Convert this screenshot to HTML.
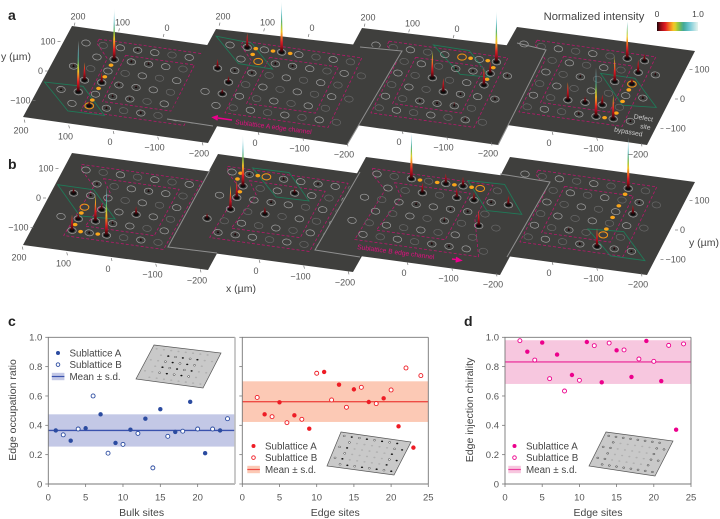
<!DOCTYPE html>
<html lang="en">
<head>
<meta charset="utf-8">
<title>Edge channel measurements</title>
<style>
html,body{margin:0;padding:0;background:#fff;width:720px;height:519px;overflow:hidden}
svg{display:block;font-family:"Liberation Sans",sans-serif}
</style>
</head>
<body>
<svg id="figure" xmlns="http://www.w3.org/2000/svg" width="720" height="519" viewBox="0 0 720 519">
<rect width="720" height="519" fill="#fff"/>
<defs id="defs"></defs>
<g id="plates-a"></g>
<g id="plates-b"></g>
<g id="plate-labels" font-size="9" fill="#555"></g>
<g font-weight="bold" font-size="14" fill="#222">
<text x="8" y="20">a</text>
<text x="8" y="169">b</text>
<text x="8" y="326">c</text>
<text x="464" y="326">d</text>
</g>
<g>
<text x="16" y="60" font-size="10.5" fill="#444" text-anchor="middle">y (µm)</text>
<text x="704" y="246" font-size="10.5" fill="#444" text-anchor="middle">y (µm)</text>
<text x="241" y="292" font-size="10.5" fill="#444" text-anchor="middle">x (µm)</text>
<text x="594" y="20" font-size="11.2" fill="#444" text-anchor="middle">Normalized intensity</text>
<text x="657" y="17" font-size="8.5" fill="#444" text-anchor="middle">0</text>
<text x="698" y="17" font-size="8.5" fill="#444" text-anchor="middle">1.0</text>
<text transform="translate(235 124) rotate(7.6)" font-size="6.7" fill="#e0107f">Sublattice A edge channel</text>
<text transform="translate(357 249) rotate(7.6)" font-size="6.7" fill="#e0107f">Sublattice B edge channel</text>
<path d="M232 120 L218 118 M218 115.6 L213 117.4 L217.6 120" stroke="#ec008c" stroke-width="1.4" fill="#ec008c"/>
<path d="M452 259 L456 259.6 M456 257.4 L461 260.4 L455.6 262" stroke="#ec008c" stroke-width="1.4" fill="#ec008c"/>
<g font-size="6.7" fill="#ccc" text-anchor="middle">
<text transform="translate(643 120) rotate(10)">Defect</text>
<text transform="translate(645 129) rotate(10)">site</text>
<text transform="translate(628 134) rotate(10)">bypassed</text>
</g>
</g>
<g id="charts"></g>
</svg>
<script>
/* ---------- panels a and b: measured intensity per lattice site [column,row,intensity] ---------- */
const peaksA1=[[1,4,1],[2,1,1],[1,3,.35],[2,3,.2],[2,5,.1],[3,5,.05],[3,0,.05],[3,1,.05],[4,1,.05],[3,3,.06],[4,3,.05],[3,4,.05],[4,4,.05],[5,5,.05],[0,2,.05],[0,4,.03]];
const peaksA2=[[1,0,.28],[3,0,1],[0,2,.18],[1,3,.12],[1,4,.1],[2,2,.05],[3,1,.05],[4,1,.04],[1,2,.04]];
const peaksA3=[[7,0,1],[4,2,.53],[5,3,.27],[7,2,.35],[7,1,.24],[6,4,.08],[5,1,.05],[6,1,.04],[5,4,.05],[4,4,.05],[7,5,.06],[8,3,.05],[8,1,.05],[6,3,.04]];
const peaksA4=[[6,0,.72],[7,0,.14],[7,1,.25],[6,2,.5],[7,2,.12],[6,5,.96],[7,5,.47],[6,4,.2],[5,4,.12],[4,4,.35],[5,5,.06],[8,1,.06],[8,3,.06],[4,2,.05],[8,5,.04]];
const peaksB1=[[3,5,.96],[2,4,.53],[1,5,.31],[1,4,.12],[4,3,.16],[0,2,.1],[2,3,.12],[3,4,.06],[1,1,.05],[4,1,.05],[2,5,.05],[5,5,.05],[1,2,.05]];
const peaksB2=[[1,1,1],[1,3,.47],[1,2,.33],[0,4,.1],[3,3,.14],[4,1,.1],[3,0,.06],[1,5,.05],[2,5,.05],[3,2,.06],[1,0,.05],[5,0,.04]];
const peaksB3=[[2,0,.9],[3,1,.2],[4,0,.2],[5,0,.18],[5,1,.2],[6,1,.16],[8,1,.18],[7,3,.3],[5,3,.08],[3,2,.05],[5,2,.04],[5,5,.05],[6,5,.05],[7,1,.05],[6,2,.05]];
const peaksB4=[[6,0,1],[6,5,.36],[7,2,.18],[7,1,.05],[4,4,.06],[5,5,.05],[7,5,.05],[8,5,.03]];

const stepsA1=[[2,4.5],[2,3.5],[2,2.5],[2,1.5]];
const stepsA2=[[1.5,0],[2.5,0],[3.5,0],[1.5,.5]];
const stepsA3=[[5.5,0],[6.5,0],[7,.5],[7,1.5]];
const stepsA4=[[7,2.5],[7,3.5],[7,4.5],[6.5,5]];
const stepsB1=[[1,3.5],[1,4.5],[1.5,5],[2.5,5]];
const stepsB2=[[1.5,0],[.5,0],[.5,.5],[1,1.5]];
const stepsB3=[[2.5,0],[3.5,0],[4.5,0],[5.5,0]];
const stepsB4=[[6,.5],[6,1.5],[6,2.5],[6,3.5]];

/* ---------- panel c and d values ---------- */
const bulkSitesA=[1,3,5,7,9,11,13,15,17,19,21,23];
const edgeSitesA=[3,5,7,9,11,13,15,17,19,21,23];
const sitesB=[2,4,6,8,10,12,14,16,18,20,22,24];
const bulkA=[.365,.295,.38,.475,.28,.37,.445,.51,.355,.56,.21,.365];
const bulkB=[.335,.375,.6,.21,.27,.345,.11,.325,.36,.375,.375,.445];
const bulkMean=.365, bulkLow=.255, bulkHigh=.475;
const edgeA=[.475,.557,.468,.377,.764,.677,.645,.559,.584,.393,.248];
const edgeB=[.59,.459,.418,.441,.755,.573,.523,.659,.548,.641,.791,.739];
const edgeMean=.561, edgeLow=.423, edgeHigh=.70;
const chiralityA=[.902,.964,.882,.743,.968,.693,.911,.73,.975,.702,.37];
const chiralityB=[.977,.845,.718,.634,.707,.943,.961,.914,.852,.836,.945,.955];
const chiralityMean=.832, chiralityLow=.682, chiralityHigh=.98;
const yTicks=[0,.2,.4,.6,.8,1];
const xTicks=[0,5,10,15,20,25];
const plateXTicks=[200,100,0,-100,-200];
const plateYTicks=[100,0,-100];
const colorStops=[[0,'#1a0508'],[.08,'#8b0a14'],[.2,'#e01b24'],[.32,'#f58220'],[.42,'#f5d327'],[.52,'#8dc63f'],[.64,'#3fa796'],[.78,'#6cc5d3'],[1,'#e8f3ee']];

const NS='http://www.w3.org/2000/svg';
function mk(tag,attrs,parent,text){
  const el=document.createElementNS(NS,tag);
  for(const k in attrs)el.setAttribute(k,attrs[k]);
  if(text!==undefined)el.textContent=text;
  if(parent)parent.appendChild(el);
  return el;
}
function hex(c){return [1,3,5].map(i=>parseInt(c.substr(i,2),16));}
function colorAt(t){
  for(let i=1;i<colorStops.length;i++){
    if(t<=colorStops[i][0]){
      const a=colorStops[i-1],b=colorStops[i],f=(t-a[0])/(b[0]-a[0]);
      const ca=hex(a[1]),cb=hex(b[1]);
      return 'rgb('+ca.map((v,j)=>Math.round(v+(cb[j]-v)*f)).join(',')+')';
    }
  }
  return colorStops[colorStops.length-1][1];
}
const defs=document.getElementById('defs');
let gradId=0;
function peakGradient(I){
  const id='peak-grad-'+(gradId++);
  const g=mk('linearGradient',{id:id,x1:0,y1:0,x2:0,y2:1},defs);
  for(let k=10;k>=0;k--){
    const t=I*k/10;
    mk('stop',{offset:1-k/10,'stop-color':colorAt(t)},g);
  }
  return id;
}

/* colour bar */
(function(){
  const g=mk('linearGradient',{id:'cbar-grad',x1:0,y1:0,x2:1,y2:0},defs);
  for(let k=0;k<=20;k++){mk('stop',{offset:k/20,'stop-color':colorAt(k/20)},g);}
  const bar=mk('rect',{x:657,y:22,width:41,height:9,fill:'url(#cbar-grad)'},document.getElementById('figure'));
  
  
})();

/* lattice projection */
const colStep=[17.2,2.41], rowStep=[-6.24,11.6];
function sitePx(o,c,r){return [o[0]+c*colStep[0]+r*rowStep[0],o[1]+c*colStep[1]+r*rowStep[1]];}
function pathFrom(o,pts){
  return pts.map((p,i)=>{const q=sitePx(o,p[0],p[1]);return (i?'L':'M')+q[0].toFixed(1)+' '+q[1].toFixed(1);}).join(' ')+' Z';
}
const outerTop=[[.6,-.45],[7.5,-.45],[7.7,5.5],[1.7,5.5],[1.6,1],[.6,-.1]];
const innerTop=[[2.5,.55],[6.5,.55],[6.6,4.5],[2.6,4.5]];
const outerBottom=[[-.4,-.4],[6.6,-.4],[6.5,5.5],[.7,5.5],[.9,1.2],[-.2,.1]];
const innerBottom=[[1.2,.5],[5.6,.5],[5.6,4.5],[1.6,4.5],[2,1.6]];
const outerBottom3=[[-.4,-.4],[6.6,-.4],[6.6,2.5],[7.9,5.5],[.7,5.5],[.9,1.2],[-.2,.1]];

const platesA=[
 {name:'a1',corners:'72,26 257,52 208,143 23,117',o:[86,43],peaks:peaksA1,steps:stepsA1,ring:[2,5],green:[[-1.1,3.6],[1.1,3.5],[3.1,5.6],[1,5.65]],outer:outerTop,inner:innerTop},
 {name:'a4',corners:'517,27 695,51 647,145 465,119',o:[524,44],peaks:peaksA4,steps:stepsA4,ring:[7,2],green:[[5,1.5],[7,1.5],[9,3.6],[7.1,3.8]],outer:outerTop,inner:innerTop},
 {name:'a3',corners:'362,28 547,50 498,145 313,119',o:[376,45],peaks:peaksA3,steps:stepsA3,ring:[5,0],green:[[3.1,-.65],[5.2,-.6],[7.1,1.3],[5.4,1.4]],outer:outerTop,inner:innerTop},
 {name:'a2',corners:'216,29 402,50 347,145 167,119',o:[230,45],peaks:peaksA2,steps:stepsA2,ring:[2,1],green:[[-1,-.55],[1.1,-.4],[3,1.45],[1,1.4]],outer:outerTop,inner:innerTop}
];
const platesB=[
 {name:'b1',corners:'72,153 258,178 208,270 23,245',o:[86,170],peaks:peaksB1,steps:stepsB1,ring:[1,3],green:[[-1.1,1.5],[1,1.5],[3,3.6],[1,3.75]],outer:outerBottom,inner:innerBottom},
 {name:'b2',corners:'218,154 405,180 353,272 168,247',o:[232,172],peaks:peaksB2,steps:stepsB2,ring:[2,0],green:[[1,-.55],[3.1,-.6],[5,1.45],[3.1,1.5]],outer:outerBottom,inner:innerBottom},
 {name:'b4',corners:'510,157 695,182 647,275 462,250',o:[525,174],peaks:peaksB4,steps:stepsB4,ring:[6,4],green:[[5,3.7],[7,3.5],[9,5.6],[7,5.6]],outer:outerTop,inner:innerTop},
 {name:'b3',corners:'366,157 550,182 500,275 315,250',o:[377,174],peaks:peaksB3,steps:stepsB3,ring:[6,0],green:[[5.1,-.5],[7.2,-.6],[9,1.6],[7,1.7]],outer:outerBottom3,inner:innerBottom}
];
const plateEdges={a2:'M167 119 L213 126 M360 47 L402 51 L347 145',a3:'M517 43 L546 50 L498 145',b2:'M210 170 L168 247 L217 253',b3:'M360 172 L315 250 L360 257 M500 174 L550 182 L507 257'};

function drawPlate(p,parent){
  const g=mk('g',{},parent);
  
  
  const poly=mk('polygon',{points:p.corners,fill:'#3f3f3d'},g);
  
  
  const outer=mk('path',{d:pathFrom(p.o,p.outer),fill:'none',stroke:'#b8186c','stroke-width':.8,'stroke-dasharray':'3 2','stroke-linejoin':'round'},g);
  
  
  const inner=mk('path',{d:pathFrom(p.o,p.inner),fill:'none',stroke:'#b8186c','stroke-width':.8,'stroke-dasharray':'3 2','stroke-linejoin':'round'},g);
  
  
  const green=mk('path',{d:pathFrom(p.o,p.green),fill:'none',stroke:'#1f7a58','stroke-width':.9},g);
  
  
  const peakSet={};
  p.peaks.forEach(k=>{peakSet[k[0]+'_'+k[1]]=1;});
  for(let c=0;c<=8;c++){
    for(let r=0;r<=5;r++){
      if(c===0&&r%2===1)continue;
      if(c===8&&r%2===0)continue;
      const q=sitePx(p.o,c,r);
      const bright=(c+r)%2===0||peakSet[c+'_'+r];
      const ring=mk('ellipse',{cx:q[0],cy:q[1],rx:4.3,ry:3,transform:'rotate(8 '+q[0]+' '+q[1]+')',fill:'none',stroke:bright?'#a0a0a0':'#686868','stroke-width':.7},g);
      
      
    }
  }
  p.steps.forEach(s=>{
    const q=sitePx(p.o,s[0],s[1]);
    const step=mk('ellipse',{cx:q[0],cy:q[1],rx:2.4,ry:1.7,fill:'#f9a51a'},g);
    
    
  });
  const rq=sitePx(p.o,p.ring[0],p.ring[1]);
  const oring=mk('ellipse',{cx:rq[0],cy:rq[1],rx:4.4,ry:3.1,fill:'none',stroke:'#f29111','stroke-width':1},g);
  
  
  const order=p.peaks.slice().sort((a,b)=>a[1]-b[1]);
  order.forEach(k=>{
    const q=sitePx(p.o,k[0],k[1]);
    const I=k[2];
    const base=mk('ellipse',{cx:q[0],cy:q[1],rx:I>.08?2.6:1.1,ry:I>.08?1.8:.8,fill:'#0c0c0c'},g);
    
    
    const h=I*51;
    const w=I>.08?1.5:.7;
    const spike=mk('polygon',{points:(q[0]-w)+','+q[1]+' '+(q[0]+w)+','+q[1]+' '+q[0]+','+(q[1]-h),fill:'url(#'+peakGradient(I)+')'},g);
    
    
  });
  if(plateEdges[p.name]){
    const e=mk('path',{d:plateEdges[p.name],fill:'none',stroke:'#8f8f8f','stroke-width':1},g);
    
    
  }
}
platesA.forEach(p=>drawPlate(p,document.getElementById('plates-a')));
platesB.forEach(p=>drawPlate(p,document.getElementById('plates-b')));

/* plate axis labels */
const labelLayer=document.getElementById('plate-labels');
function tickText(v){return v<0?'\u2212'+(-v):String(v);}
function plateXAxis(x0,y0,values,side){
  values.forEach(v=>{
    const lx=x0-v*.445, ly=y0-v*.057;
    const t=mk('text',{x:lx,y:ly+3,'text-anchor':'middle'},labelLayer,tickText(v));
    
    
    const dy=side==='bottom'?-8:6;
    const dx=side==='bottom'?4:-3;
    const l=mk('line',{x1:lx+dx,y1:ly+dy,x2:lx+dx-.8,y2:ly+dy+(side==='bottom'?-3:3),stroke:'#777','stroke-width':.7},labelLayer);
    
    
  });
}
function plateYAxis(x0,y0,values,anchor){
  values.forEach(v=>{
    const lx=x0+v*(anchor==='end'?.125:.145), ly=y0-v*.295;
    const t=mk('text',{x:lx,y:ly+3,'text-anchor':anchor},labelLayer,tickText(v));
    
    
    const d=anchor==='end'?2:-2;
    const l=mk('line',{x1:lx+d,y1:ly,x2:lx+d+(anchor==='end'?3:-3),y2:ly,stroke:'#777','stroke-width':.7},labelLayer);
    
    
  });
}
plateXAxis(110,142,plateXTicks,'bottom');
plateXAxis(255,143,[0,-100,-200],'bottom');
plateXAxis(399,142,[0,-100,-200],'bottom');
plateXAxis(549,143,[0,-100,-200],'bottom');
plateXAxis(108,269,plateXTicks,'bottom');
plateXAxis(256,271,[0,-100,-200],'bottom');
plateXAxis(404,273,[0,-100,-200],'bottom');
plateXAxis(549,273,[0,-100,-200],'bottom');
plateXAxis(167,28,[200,100,0],'top');
plateXAxis(312,28,[200,100,0],'top');
plateXAxis(457,29,[200,100,0],'top');
plateYAxis(43,71,plateYTicks,'end');
plateYAxis(41,198,plateYTicks,'end');
plateYAxis(680,99,plateYTicks,'start');
plateYAxis(680,230,plateYTicks,'start');

/* charts */
const charts=document.getElementById('charts');
const yTop=337.3, yBottom=484;
function yScale(v){return yBottom-v*(yBottom-yTop);}
function drawPanel(o){
  const g=mk('g',{},charts);
  
  
  const xScale=v=>o.x0+v*(o.x1-o.x0)/25;
  const band=mk('rect',{x:o.x0,y:yScale(o.high),width:o.x1-o.x0,height:yScale(o.low)-yScale(o.high),fill:o.band},g);
  
  
  const mean=mk('line',{x1:o.x0,x2:o.x1,y1:yScale(o.mean),y2:yScale(o.mean),stroke:o.line,'stroke-width':1.3},g);
  
  
  const frame=mk('path',{d:'M'+o.x1+' '+yTop+' L'+o.x0+' '+yTop+' L'+o.x0+' '+yBottom+' L'+o.x1+' '+yBottom,fill:'none',stroke:'#777','stroke-width':.9},g);
  
  
  const right=mk('line',{x1:o.x1,x2:o.x1,y1:yTop,y2:yBottom,stroke:o.rightColor,'stroke-width':o.rightWidth},g);
  
  
  yTicks.forEach(v=>{
    const t=mk('line',{x1:o.x0-3,x2:o.x0,y1:yScale(v),y2:yScale(v),stroke:'#777','stroke-width':.8},g);
    
    
    if(o.showY){
      const l=mk('text',{x:o.x0-6,y:yScale(v)+3.4,'text-anchor':'end','font-size':9.5,fill:'#555'},g,v===0?'0':v.toFixed(1));
      
      
    }
  });
  o.xLabels.forEach(v=>{
    const t=mk('line',{x1:xScale(v),x2:xScale(v),y1:yBottom,y2:yBottom+3,stroke:'#777','stroke-width':.8},g);
    
    
    const l=mk('text',{x:xScale(v),y:500.5,'text-anchor':'middle','font-size':9.5,fill:'#555'},g,String(v));
    
    
  });
  const title=mk('text',{x:(o.x0+o.x1)/2,y:516,'text-anchor':'middle','font-size':10.5,fill:'#444'},g,o.xTitle);
  
  
  if(o.yTitle){
    const yt=mk('text',{transform:'translate('+o.yTitleX+' 410) rotate(-90)','text-anchor':'middle','font-size':10.5,fill:'#444'},g,o.yTitle);
    
    
  }
  o.valuesA.forEach((v,i)=>{
    const d=mk('circle',{cx:xScale(o.sitesA[i]),cy:yScale(v),r:2.2,fill:o.color},g);
    
    
  });
  o.valuesB.forEach((v,i)=>{
    const d=mk('circle',{cx:xScale(o.sitesB[i]),cy:yScale(v),r:2,fill:'#fff',stroke:o.color,'stroke-width':.9},g);
    
    
  });
  const lg=mk('g',{},g);
  
  
  const a=mk('circle',{cx:o.lx,cy:o.ly,r:2,fill:o.color},lg);
  
  
  const b=mk('circle',{cx:o.lx,cy:o.ly+11.6,r:1.8,fill:'#fff',stroke:o.color,'stroke-width':.9},lg);
  
  
  const sw=mk('rect',{x:o.lx-6.2,y:o.ly+19.8,width:12.6,height:7.4,fill:o.band},lg);
  
  
  const sl=mk('line',{x1:o.lx-6.2,x2:o.lx+6.4,y1:o.ly+23.5,y2:o.ly+23.5,stroke:o.line,'stroke-width':1.2},lg);
  
  
  const t1=mk('text',{x:o.lx+11.5,y:o.ly+3.4,'font-size':9.8,fill:'#444'},lg,'Sublattice A');
  
  
  const t2=mk('text',{x:o.lx+11.5,y:o.ly+15,'font-size':9.8,fill:'#444'},lg,'Sublattice B');
  
  
  const t3=mk('text',{x:o.lx+11.5,y:o.ly+26.8,'font-size':9.8,fill:'#444'},lg,'Mean \u00b1 s.d.');
  
  
}
drawPanel({name:'chart-bulk-sites',x0:48.3,x1:235,low:bulkLow,high:bulkHigh,mean:bulkMean,band:'#c3c8e6',line:'#3a52ad',color:'#2b4ba0',rightColor:'#bdbdbd',rightWidth:1.6,showY:true,xLabels:[0,5,10,15,20],xTitle:'Bulk sites',yTitle:'Edge occupation ratio',yTitleX:16,sitesA:bulkSitesA,sitesB:sitesB,valuesA:bulkA,valuesB:bulkB,lx:58,ly:353});
drawPanel({name:'chart-edge-sites',x0:242.3,x1:428.3,low:edgeLow,high:edgeHigh,mean:edgeMean,band:'#fcc9b5',line:'#ee4c45',color:'#ee1c25',rightColor:'#777',rightWidth:.9,showY:false,xLabels:xTicks,xTitle:'Edge sites',sitesA:edgeSitesA,sitesB:sitesB,valuesA:edgeA,valuesB:edgeB,lx:253.5,ly:446});
drawPanel({name:'chart-edge-chirality',x0:505,x1:691,low:chiralityLow,high:chiralityHigh,mean:chiralityMean,band:'#f7c7df',line:'#ec3fa0',color:'#ec008c',rightColor:'#777',rightWidth:.9,showY:true,xLabels:xTicks,xTitle:'Edge sites',yTitle:'Edge injection chirality',yTitleX:473,sitesA:edgeSitesA,sitesB:sitesB,valuesA:chiralityA,valuesB:chiralityB,lx:514.5,ly:446});

/* device insets */
function drawInset(name,c,mode){
  const g=mk('g',{},charts);
  
  
  const plate=mk('polygon',{points:c.map(p=>p.join(',')).join(' '),fill:'#c9c9c9',stroke:'#555','stroke-width':.7},g);
  
  
  for(let i=0;i<=8;i++){
    for(let j=0;j<=5;j++){
      if(i===0&&j%2===1)continue;
      if(i===8&&j%2===0)continue;
      const u=(i+.6)/9.2,v=(j+.6)/6.2;
      const x=c[0][0]*(1-u)*(1-v)+c[1][0]*u*(1-v)+c[2][0]*u*v+c[3][0]*(1-u)*v;
      const y=c[0][1]*(1-u)*(1-v)+c[1][1]*u*(1-v)+c[2][1]*u*v+c[3][1]*(1-u)*v;
      const isBulk=i>=2&&i<=6&&j>=1&&j<=4;
      const isEdge=!isBulk;
      let fill='#b0b0b0',stroke='none';
      if(mode==='bulk'&&isBulk){fill=(i+j)%2?'#111':'#fff';stroke=(i+j)%2?'none':'#333';}
      if(mode==='edge'&&isEdge){fill=(i+j)%2?'#111':'#fff';stroke=(i+j)%2?'none':'#333';}
      if(mode==='chirality'&&isEdge){fill='#c0c0c0';stroke='#444';}
      const dot=mk('ellipse',{cx:x,cy:y,rx:1.1,ry:.8,fill:fill,stroke:stroke,'stroke-width':.5},g);
      
      
    }
  }
}
drawInset('inset-bulk-device',[[154,345],[221,353],[203,388],[136,379]],'bulk');
drawInset('inset-edge-device',[[341,432],[411,442],[394,475],[327,466]],'edge');
drawInset('inset-chirality-device',[[606,432],[673,441],[655,476],[589,466]],'chirality');
</script>
</body>
</html>
